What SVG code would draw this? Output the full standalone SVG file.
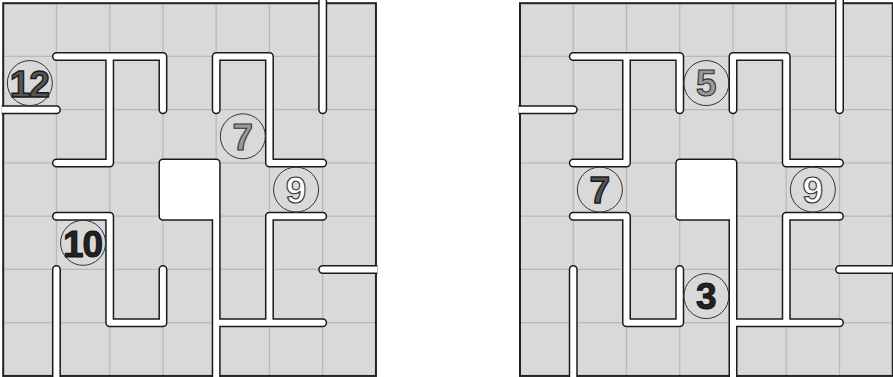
<svg xmlns="http://www.w3.org/2000/svg" xmlns:xlink="http://www.w3.org/1999/xlink" width="893" height="377" viewBox="0 0 893 377">
<style>
.bg{fill:#d9d9d9}
.gl{fill:none;stroke:#b9b9b9;stroke-width:1.3}
.border{fill:none;stroke:#222;stroke-width:2}
.wo{fill:none;stroke:#1a1a1a;stroke-width:9;stroke-linecap:round;stroke-linejoin:round}
.wi{fill:none;stroke:#fff;stroke-width:6;stroke-linecap:round;stroke-linejoin:round}
.sq{fill:#fff}
.ring{fill:none;stroke:#333;stroke-width:1}
.num{font-family:"Liberation Sans",Arial,sans-serif;font-size:37px;font-weight:bold;text-anchor:middle}
.two{letter-spacing:-1px}
.dark{fill:#555;stroke:#1a1a1a;stroke-width:1.4}
.black{fill:#222;stroke:#111;stroke-width:1}
.gray{fill:#999;stroke:#333;stroke-width:1.1}
.white{fill:#fff;stroke:#333;stroke-width:1.1}
</style>
<defs>
<clipPath id="clip"><rect x="-1.5" y="-3.5" width="375.75" height="377.75"/></clipPath>
<path id="walls" d="M53.25,53.25H159.75V106.5 M106.5,53.25V159.75H53.25 M-10,106.5H53.25 M213,106.5V53.25H266.25V159.75H319.5 M319.5,-10V106.5 M53.25,213H106.5V319.5H159.75V266.25 M53.25,266.25V383 M213,159.75V383 M319.5,213H266.25V319.5 M213,319.5H319.5 M319.5,266.25H383 M159.75,159.75H213V213H159.75Z"/>
<g id="board">
<rect class="bg" x="0" y="0" width="372.75" height="372.75"/>
<path class="gl" d="M53.25,0V372.75M106.5,0V372.75M159.75,0V372.75M213,0V372.75M266.25,0V372.75M319.5,0V372.75M0,53.25H372.75M0,106.5H372.75M0,159.75H372.75M0,213H372.75M0,266.25H372.75M0,319.5H372.75"/>
<rect class="border" x="0" y="0" width="372.75" height="372.75"/>
<g clip-path="url(#clip)">
<use xlink:href="#walls" class="wo"/>
<use xlink:href="#walls" class="wi"/>
<rect class="sq" x="159.75" y="159.75" width="53.25" height="53.25"/>
</g>
</g>
</defs>
<g id="left-board" transform="translate(3.2,3.2)">
<use xlink:href="#board"/>
<g id="L12"><circle class="ring" cx="26.625" cy="79.875" r="22.5"/><text class="num two dark" x="26.125" y="93.5">12</text></g>
<g id="L7"><circle class="ring" cx="239.625" cy="133.125" r="22.5"/><text class="num gray" x="239.625" y="146.4">7</text></g>
<g id="L9"><circle class="ring" cx="292.875" cy="186.375" r="22.5"/><text class="num white" x="292.875" y="199.6">9</text></g>
<g id="L10"><circle class="ring" cx="79.875" cy="239.625" r="22.5"/><text class="num two black" x="79.375" y="253.8">10</text></g>
</g>
<g id="right-board" transform="translate(520,3.2)">
<use xlink:href="#board"/>
<g id="R5"><circle class="ring" cx="186.375" cy="79.875" r="22.5"/><text class="num gray" x="186.375" y="93.1">5</text></g>
<g id="R7"><circle class="ring" cx="79.875" cy="186.375" r="22.5"/><text class="num dark" x="79.875" y="199.8">7</text></g>
<g id="R9"><circle class="ring" cx="292.875" cy="186.375" r="22.5"/><text class="num white" x="292.875" y="199.6">9</text></g>
<g id="R3"><circle class="ring" cx="186.375" cy="292.875" r="22.5"/><text class="num black" x="186.375" y="306.3">3</text></g>
</g>
</svg>
